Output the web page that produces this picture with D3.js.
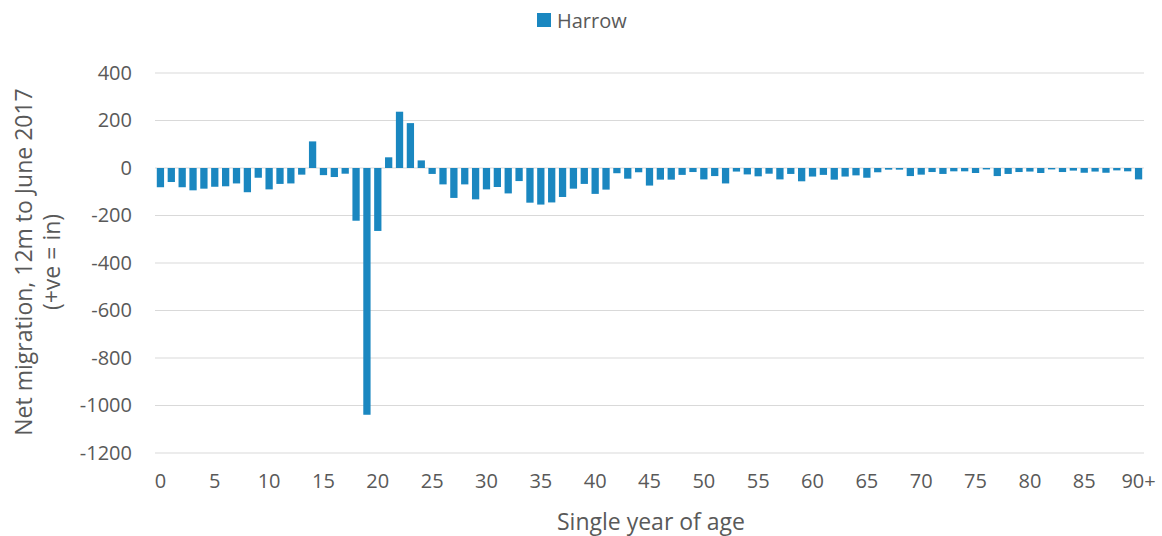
<!DOCTYPE html>
<html><head><meta charset="utf-8">
<script src="https://cdn.jsdelivr.net/npm/d3@7"></script>
<style>body{margin:0;background:#fff}text{font-family:"Open Sans",sans-serif}</style>
</head><body>
<svg id="c" width="1162" height="536"></svg>
<script>
const ages = d3.range(0, 91).map(a => a === 90 ? "90+" : String(a));
const harrow = [-81,-59,-81,-94,-87,-79,-77,-65,-102,-41,-90,-67,-65,-28,112,-30,-38,-24,-222,-1039,
-265,45,237,189,32,-25,-69,-126,-69,-132,-90,-80,-107,-55,-146,-154,-145,-122,-87,-67,
-109,-91,-22,-45,-18,-74,-49,-49,-29,-17,-48,-34,-65,-15,-27,-35,-24,-48,-25,-56,
-36,-29,-49,-36,-31,-41,-18,-7,-7,-34,-28,-17,-25,-14,-14,-21,-6,-34,-25,-17,
-15,-21,-6,-17,-11,-20,-15,-20,-10,-14,-48];
const yTicks = [400,200,0,-200,-400,-600,-800,-1000,-1200];
const xTickLabels = ["0","5","10","15","20","25","30","35","40","45","50","55","60","65","70","75","80","85","90+"];

const svg = d3.select("#c");
const x = d3.scaleBand().domain(ages).range([155,1144]).paddingInner(0.33).paddingOuter(0.165);
const y = d3.scaleLinear().domain([-1200,400]).range([453,73]);
const txt = "#595959";

svg.append("g").selectAll("line").data(yTicks).join("line")
  .attr("x1",155).attr("x2",1144).attr("y1",d=>y(d)).attr("y2",d=>y(d))
  .attr("stroke","#d9d9d9").attr("stroke-width",1);

svg.append("g").selectAll("rect").data(harrow).join("rect")
  .attr("x",(d,i)=>x(ages[i])).attr("width",x.bandwidth())
  .attr("y",d=>y(Math.max(0,d))).attr("height",d=>Math.abs(y(d)-y(0)))
  .attr("fill","#1a87c0");

const yAxis = d3.axisLeft(y).tickValues(yTicks).tickSize(0).tickPadding(0).tickFormat(d=>String(d));
const ga = svg.append("g").attr("transform","translate(132,0)").call(yAxis);
ga.select(".domain").remove();
ga.selectAll("text").attr("fill",txt).style("font-size","20px").style("font-family","Open Sans");

const xAxis = d3.axisBottom(x).tickValues(xTickLabels).tickSize(0).tickPadding(0);
const gx = svg.append("g").attr("transform","translate(0,474)").call(xAxis);
gx.select(".domain").remove();
gx.selectAll("text").attr("fill",txt).style("font-size","20px").style("font-family","Open Sans");

svg.append("text").attr("x",651).attr("y",530).attr("text-anchor","middle")
  .attr("fill",txt).style("font-size","23px").text("Single year of age");

const yt = svg.append("text").attr("transform","translate(0,262) rotate(-90)").attr("text-anchor","middle")
  .attr("fill",txt).style("font-size","23px");
yt.append("tspan").attr("x",0).attr("y",32).text("Net migration, 12m to June 2017");
yt.append("tspan").attr("x",0).attr("y",60).text("(+ve = in)");

svg.append("rect").attr("x",537).attr("y",13).attr("width",14).attr("height",14).attr("fill","#1a87c0");
svg.append("text").attr("x",557).attr("y",28).attr("fill",txt).style("font-size","20px").text("Harrow");
</script>
</body></html>
